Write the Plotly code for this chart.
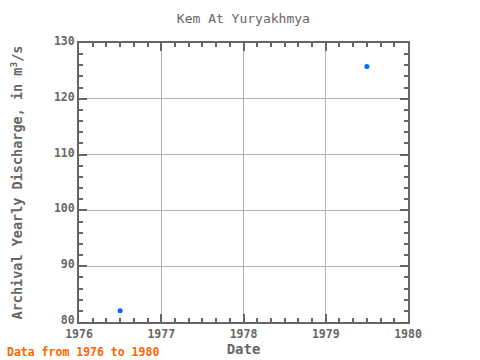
import plotly.graph_objects as go

years = [1976.5, 1979.5]
discharge = [82.0, 125.8]
x_ticks = [1976, 1977, 1978, 1979, 1980]
y_ticks = [80, 90, 100, 110, 120, 130]

font = "DejaVu Sans Mono"
gray = "#666666"

fig = go.Figure()
fig.add_trace(go.Scatter(x=years, y=discharge, mode="markers",
                         marker=dict(color="#0066ff", size=5, symbol="circle"),
                         showlegend=False))

axis_common = dict(showline=True, linecolor=gray, linewidth=2, mirror="ticks",
                   ticks="inside", tickcolor=gray, ticklen=8, tickwidth=2,
                   showgrid=True, gridcolor="#b0b0b0", gridwidth=1, zeroline=False,
                   automargin=False,
                   tickfont=dict(family=font, size=11.5, color=gray))

fig.update_layout(
    width=480, height=360,
    margin=dict(l=79, r=72, t=43, b=38, autoexpand=False),
    paper_bgcolor="white", plot_bgcolor="white",
    title=dict(text="Kem At Yuryakhmya", x=0.507, xanchor="center", y=0.95, yanchor="middle",
               font=dict(family=font, size=13, color=gray)),
    xaxis=dict(range=[1976, 1980], tickvals=x_ticks, ticktext=[f"<b>{v}</b>" for v in x_ticks],
               title=dict(text="<b>Date</b>", font=dict(family=font, size=14, color=gray), standoff=2),
               minor=dict(ticks="inside", ticklen=4, tickwidth=2, tickcolor=gray, dtick=1/6, tick0=1976, showgrid=False),
               **axis_common),
    yaxis=dict(range=[80, 130], tickvals=y_ticks, ticktext=[f"<b>{v}</b>" for v in y_ticks],
               title=dict(text="<b>Archival Yearly Discharge, in m<sup>3</sup>/s</b>",
                          font=dict(family=font, size=13.5, color=gray), standoff=28),
               ticklabelshift=-2,
               minor=dict(ticks="inside", ticklen=4, tickwidth=2, tickcolor=gray, dtick=2, tick0=80, showgrid=False),
               **axis_common),
    annotations=[dict(text="<b>Data from 1976 to 1980</b>", xref="paper", yref="paper",
                      x=-0.225, y=-0.1075, xanchor="left", yanchor="middle", showarrow=False,
                      font=dict(family=font, size=11.5, color="#ff6600"))],
)

fig.write_html("out.html", config={"displayModeBar": False},
               post_script="document.body.style.margin='0';")
